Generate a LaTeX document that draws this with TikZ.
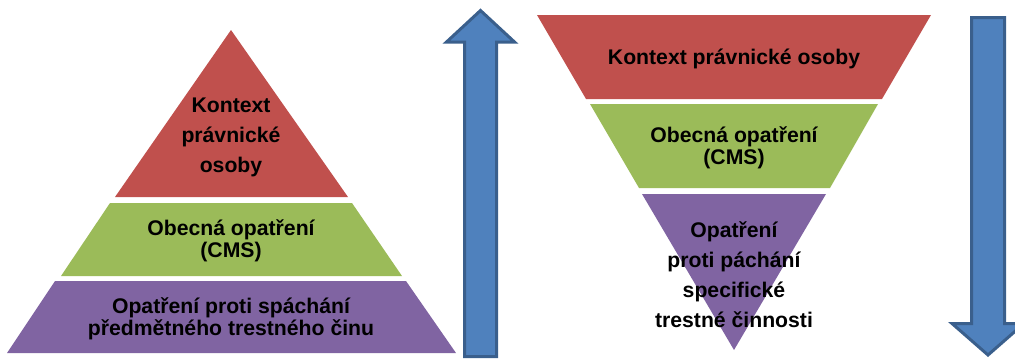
\documentclass[tikz,border=0pt]{standalone}
\usepackage{fontspec}
\setmainfont{Liberation Sans}
\usepackage{xcolor}
\usetikzlibrary{positioning}

\definecolor{layerRed}{HTML}{C0504D}
\definecolor{layerGreen}{HTML}{9BBB59}
\definecolor{layerPurple}{HTML}{8064A2}
\definecolor{arrowFill}{HTML}{4F81BD}
\definecolor{arrowEdge}{HTML}{3A5F8C}

\begin{document}
\begin{tikzpicture}[
    x=1pt,
    y=-1pt,
    label/.style={font=\bfseries\fontsize{21.2}{22.5}\selectfont, align=center, inner sep=0pt},
    loose/.style={label, font=\bfseries\fontsize{21.2}{30}\selectfont},
    bigarrow/.style={fill=arrowFill, draw=arrowEdge, line width=3pt, line join=miter}
]
    \clip (0,0) rectangle (1015,360);

    % Left pyramid: narrow top, wide base
    \fill[layerRed]    (231,30) -- (348,197) -- (115,197) -- cycle;
    \fill[layerGreen]  (110,203) -- (352,203) -- (402,276) -- (61,276) -- cycle;
    \fill[layerPurple] (55,281) -- (406,281) -- (456,353) -- (7,353) -- cycle;

    \node[loose] (upTop) at (231,137) {Kontext\\právnické\\osoby};
    \node[label] (upMid) at (231,241) {Obecná opatření\\(CMS)};
    \node[label] (upLow) at (231,319) {Opatření proti spáchání\\předmětného trestného činu};

    % Up arrow beside it
    \draw[bigarrow] (480.5,10.5) -- (514.5,42) -- (496.5,42) -- (496.5,356.5)
        -- (464.5,356.5) -- (464.5,42) -- (446.5,42) -- cycle;

    % Right pyramid: turned upside down
    \fill[layerRed]    (537,15) -- (931,15) -- (882,99) -- (586,99) -- cycle;
    \fill[layerGreen]  (590,104) -- (878,104) -- (830,188) -- (639,188) -- cycle;
    \fill[layerPurple] (642,194) -- (826,194) -- (734,350) -- cycle;

    \node[label] (downTop) at (734,59) {Kontext právnické osoby};
    \node[label] (downMid) at (734,148) {Obecná opatření\\(CMS)};
    \node[loose] (downLow) at (734,275) {Opatření\\proti páchání\\specifické\\trestné činnosti};

    % Down arrow at the right edge
    \draw[bigarrow] (988,355) -- (1024,323.5) -- (1004.5,323.5) -- (1004.5,17.5)
        -- (971.5,17.5) -- (971.5,323.5) -- (952,323.5) -- cycle;
\end{tikzpicture}
\end{document}
